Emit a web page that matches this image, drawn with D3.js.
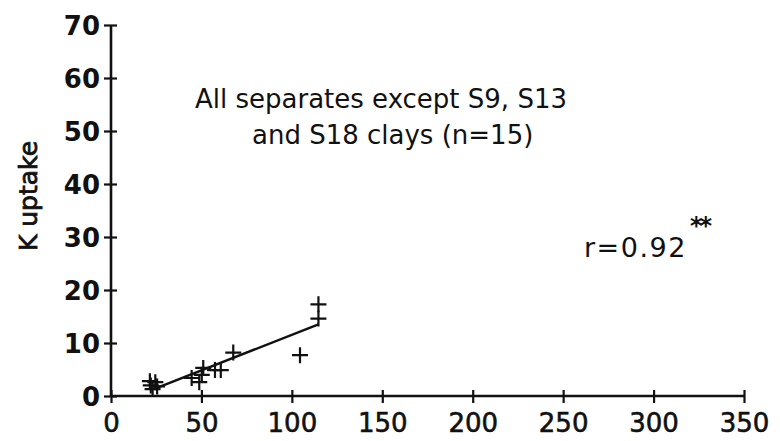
<!DOCTYPE html>
<html>
<head>
<meta charset="utf-8">
<script src="https://cdn.jsdelivr.net/npm/d3@7"></script>
<style>
  html, body { margin: 0; padding: 0; background: #fff; }
  svg { display: block; }
  text { font-family: "DejaVu Sans", sans-serif; fill: #111; }
</style>
</head>
<body>
<svg id="chart" width="780" height="441"></svg>
<script>
// Separate samples: x = release value, y = K uptake
const xValues = [21.5, 23.0, 24.5, 25.5, 22.0, 44.6, 48.8, 50.2, 51.0, 57.5, 60.7, 67.6, 104.5, 114.7, 114.7];
const yValues = [ 2.8,  1.3,  2.6,  1.8,  2.0,  3.4,  2.6,  4.0,  5.3,  4.9,  4.9,  8.2,   7.7,  17.3,  14.6];

// Fitted line y = a + b·x across the data range
const fitIntercept = -1.89;
const fitSlope = 0.1344;
const fitRange = [24, 114.7];

const xTicks = [0, 50, 100, 150, 200, 250, 300, 350];
const yTicks = [0, 10, 20, 30, 40, 50, 60, 70];

const titleLines = ["All separates except S9, S13", "and S18 clays (n=15)"];
const yLabel = "K uptake";
const rLabel = "r=0.92";
const sigLabel = "**";

const svg = d3.select("#chart");
const ink = "#111";

const x = d3.scaleLinear().domain([0, 350]).range([111, 744]);
const y = d3.scaleLinear().domain([0, 70]).range([396, 25]);

// X axis
const gx = svg.append("g")
  .attr("transform", `translate(0,${y(0)})`)
  .call(d3.axisBottom(x).tickValues(xTicks).tickSize(7).tickSizeOuter(0).tickPadding(10));
gx.select(".domain").attr("stroke", ink).attr("stroke-width", 2.6)
  .attr("d", `M${x(0)},0H${x(350)}`);
gx.selectAll(".tick line").attr("stroke", ink).attr("stroke-width", 2.2).attr("y1", -6);
gx.selectAll(".tick text")
  .attr("font-size", 26)
  .attr("font-family", "DejaVu Sans, sans-serif").attr("fill", ink)
  .attr("stroke", ink).attr("stroke-width", 0.6)
  .attr("dy", "0.72em");

// Y axis
const gy = svg.append("g")
  .attr("transform", `translate(${x(0)},0)`)
  .call(d3.axisLeft(y).tickValues(yTicks).tickSize(7).tickSizeOuter(0).tickPadding(4));
gy.select(".domain").attr("stroke", ink).attr("stroke-width", 2.6)
  .attr("d", `M0,${y(0)}V${y(70)}`);
gy.selectAll(".tick line").attr("stroke", ink).attr("stroke-width", 2.2).attr("x1", 6);
gy.selectAll(".tick text")
  .attr("font-size", 26).attr("font-weight", "bold")
  .attr("font-family", "DejaVu Sans, sans-serif").attr("fill", ink)
  .attr("dy", "0.36em");

// Axis title
svg.append("text")
  .attr("transform", `translate(37,${196}) rotate(-90)`)
  .attr("text-anchor", "middle")
  .attr("font-size", 25)
  .attr("stroke", ink).attr("stroke-width", 0.8)
  .text(yLabel);

// Fitted line
const fit = fitRange.map(v => [v, fitIntercept + fitSlope * v]);
svg.append("path")
  .datum(fit)
  .attr("fill", "none")
  .attr("stroke", ink)
  .attr("stroke-width", 2.4)
  .attr("d", d3.line().x(d => x(d[0])).y(d => y(d[1])));

// Plus markers
const arm = 8;
const pts = svg.append("g").attr("stroke", ink).attr("stroke-width", 2.2);
xValues.forEach((xv, i) => {
  const cx = x(xv), cy = y(yValues[i]);
  pts.append("path").attr("d", `M${cx - arm},${cy}H${cx + arm}M${cx},${cy - arm}V${cy + arm}`);
});

// Annotation
svg.append("text")
  .attr("x", 195).attr("y", 108)
  .attr("font-size", 26)
  .text(titleLines[0]);
svg.append("text")
  .attr("x", 252).attr("y", 144)
  .attr("font-size", 26)
  .text(titleLines[1]);

svg.append("text")
  .attr("x", 584).attr("y", 257)
  .attr("font-size", 27)
  .attr("letter-spacing", 1.5)
  .text(rLabel);
svg.append("text")
  .attr("x", 690).attr("y", 234)
  .attr("font-size", 24)
  .attr("font-weight", "bold")
  .attr("letter-spacing", -3)
  .text(sigLabel);
</script>
</body>
</html>
